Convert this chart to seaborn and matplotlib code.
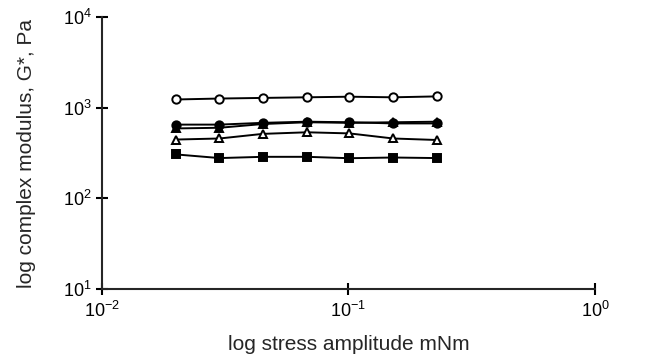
import matplotlib
matplotlib.use("Agg")
import matplotlib.pyplot as plt
import seaborn as sns
import pandas as pd
from matplotlib.ticker import LogLocator, NullLocator

# stress amplitude (mNm)
stress = [0.020, 0.030, 0.045, 0.068, 0.101, 0.152, 0.228]

# complex modulus G* (Pa) per sample
open_circle = [1230, 1260, 1280, 1300, 1320, 1300, 1330]
filled_circle = [650, 650, 680, 700, 690, 670, 670]
filled_triangle = [590, 600, 660, 690, 680, 690, 700]
open_triangle = [445, 457, 514, 535, 520, 457, 440]
filled_square = [305, 278, 287, 287, 277, 282, 278]

series = [
    (open_circle, "o", "white"),
    (filled_circle, "o", "black"),
    (filled_triangle, "^", "black"),
    (open_triangle, "^", "white"),
    (filled_square, "s", "black"),
]

sns.set_style("ticks")
plt.rcParams["font.family"] = ["Liberation Sans", "DejaVu Sans"]
plt.rcParams["mathtext.default"] = "regular"

fig = plt.figure(figsize=(6.53, 3.6), dpi=100)
ax = fig.add_axes([0.156, 0.197, 0.755, 0.756])

for vals, mk, face in series:
    df = pd.DataFrame({"x": stress, "y": vals})
    sns.lineplot(data=df, x="x", y="y", ax=ax, color="black", lw=1.4,
                 marker=mk, markersize=6, markerfacecolor=face,
                 markeredgecolor="black", markeredgewidth=1.4)

ax.set_xscale("log")
ax.set_yscale("log")
ax.set_xlim(1e-2, 1e0)
ax.set_ylim(1e1, 1e4)
ax.xaxis.set_major_locator(LogLocator(base=10, numticks=5))
ax.yaxis.set_major_locator(LogLocator(base=10, numticks=5))
ax.xaxis.set_minor_locator(NullLocator())
ax.yaxis.set_minor_locator(NullLocator())

sns.despine(ax=ax)
for s in ["left", "bottom"]:
    ax.spines[s].set_linewidth(1.5)
ax.tick_params(direction="inout", length=9, width=1.5, labelsize=13,
               colors="black")
ax.tick_params(axis="y", pad=3)
ax.tick_params(axis="x", pad=4)

ax.set_xlabel("log stress amplitude mNm", fontsize=15, labelpad=10)
ax.set_ylabel("log complex modulus, G*, Pa", fontsize=15, labelpad=19)

fig.savefig("out.png", dpi=100)
